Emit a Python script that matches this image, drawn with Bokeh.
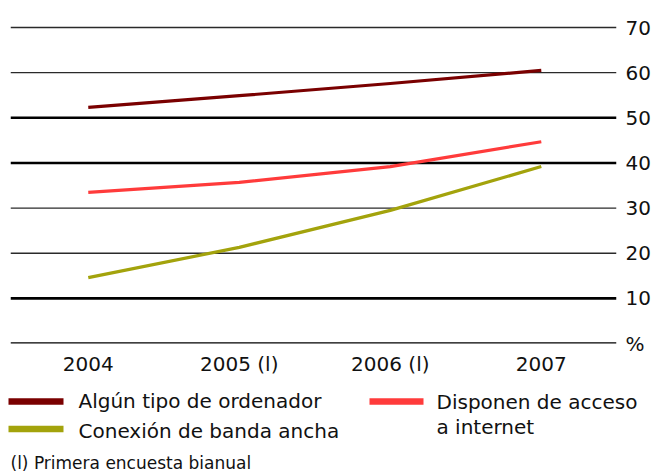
from bokeh.plotting import figure
from bokeh.models import Range1d, FixedTicker, Span
from bokeh.layouts import column
from bokeh.embed import file_html
from bokeh.resources import INLINE
from bokeh.core.properties import value

# ---- data ----
years = ["2004", "2005 (l)", "2006 (l)", "2007"]
ordenador = [52.3, 54.9, 57.6, 60.5]
internet = [33.5, 35.7, 39.2, 44.7]
banda_ancha = [14.6, 21.3, 29.5, 39.2]
y_ticks = [0, 10, 20, 30, 40, 50, 60, 70]
y_tick_labels = ["%", "10", "20", "30", "40", "50", "60", "70"]
name_ordenador = "Algún tipo de ordenador"
name_internet = ["Disponen de acceso", "a internet"]
name_banda = "Conexión de banda ancha"
footnote = "(l) Primera encuesta bianual"

# ---- styles ----
FONT = "DejaVu Sans"
C_ORD = "#7a0000"
C_INT = "#ff3b3b"
C_BAN = "#a3a30c"
TXT = "#111111"
thick_lines = {0, 10, 40, 50}

xs = list(range(len(years)))

p = figure(width=653, height=380,
           x_range=Range1d(-0.515, 3.498), y_range=Range1d(0, 72),
           y_axis_location="right",
           output_backend="svg", toolbar_location=None,
           min_border_left=10, min_border_right=35,
           min_border_top=18, min_border_bottom=37)
p.outline_line_color = None
p.xgrid.visible = False
p.ygrid.visible = False
p.background_fill_color = "white"

for t in y_ticks:
    thick = t in thick_lines
    p.add_layout(Span(location=t, dimension="width",
                      line_color="#000000" if thick else "#2a2a2a",
                      line_width=2.6 if thick else 1.4,
                      level="underlay"))

for vals, col in [(ordenador, C_ORD), (internet, C_INT), (banda_ancha, C_BAN)]:
    p.line(xs, vals, line_color=col, line_width=3.2, line_join="round")

xa = p.xaxis[0]
xa.ticker = FixedTicker(ticks=xs)
xa.major_label_overrides = {i: years[i] for i in xs}
xa.axis_line_color = None
xa.major_tick_line_color = None
xa.minor_tick_line_color = None
xa.major_tick_out = 0
xa.major_tick_in = 0
xa.minor_tick_out = 0
xa.major_label_standoff = 8
xa.major_label_text_font = FONT
xa.major_label_text_font_size = "20px"
xa.major_label_text_color = TXT

ya = p.yaxis[0]
ya.ticker = FixedTicker(ticks=y_ticks)
ya.major_label_overrides = {t: l for t, l in zip(y_ticks, y_tick_labels)}
ya.axis_line_color = None
ya.major_tick_line_color = None
ya.minor_tick_line_color = None
ya.major_tick_out = 0
ya.major_tick_in = 0
ya.minor_tick_out = 0
ya.major_label_standoff = 9
ya.major_label_text_font = FONT
ya.major_label_text_font_size = "20px"
ya.major_label_text_color = TXT

# ---- legend / footnote panel: full-width frame, 1 unit = 1 pixel ----
can_unalign = "frame_align" in figure.properties() or "frame_align" in p.properties()
if can_unalign:
    lg = figure(width=653, height=93,
                x_range=Range1d(0, 653), y_range=Range1d(93, 0),
                x_axis_location=None, y_axis_location=None,
                output_backend="svg", toolbar_location=None,
                min_border=0, min_border_left=0, min_border_right=0,
                min_border_top=0, min_border_bottom=0)
    lg.frame_align = False
else:
    lg = figure(width=653, height=93,
                x_range=Range1d(10, 618), y_range=Range1d(93, 0),
                x_axis_location=None, y_axis_location=None,
                output_backend="svg", toolbar_location=None,
                min_border_left=10, min_border_right=35,
                min_border_top=0, min_border_bottom=0)
lg.outline_line_color = None
lg.grid.visible = False

lg.segment(x0=[8, 8, 369], y0=[21, 48.5, 21], x1=[63, 63, 423], y1=[21, 48.5, 21],
           line_color=[C_ORD, C_BAN, C_INT], line_width=6.5, line_cap="butt")
lg.text(x=[78, 78, 436, 436, 10], y=[20, 50, 21, 46, 82],
        text=[name_ordenador, name_banda, name_internet[0], name_internet[1], footnote],
        text_font=value(FONT),
        text_font_size=["20px", "20px", "20px", "20px", "17px"],
        text_color=TXT, text_baseline="alphabetic", text_align="left")

layout = column(p, lg, spacing=0)
open("out.html", "w").write(file_html(layout, INLINE))
